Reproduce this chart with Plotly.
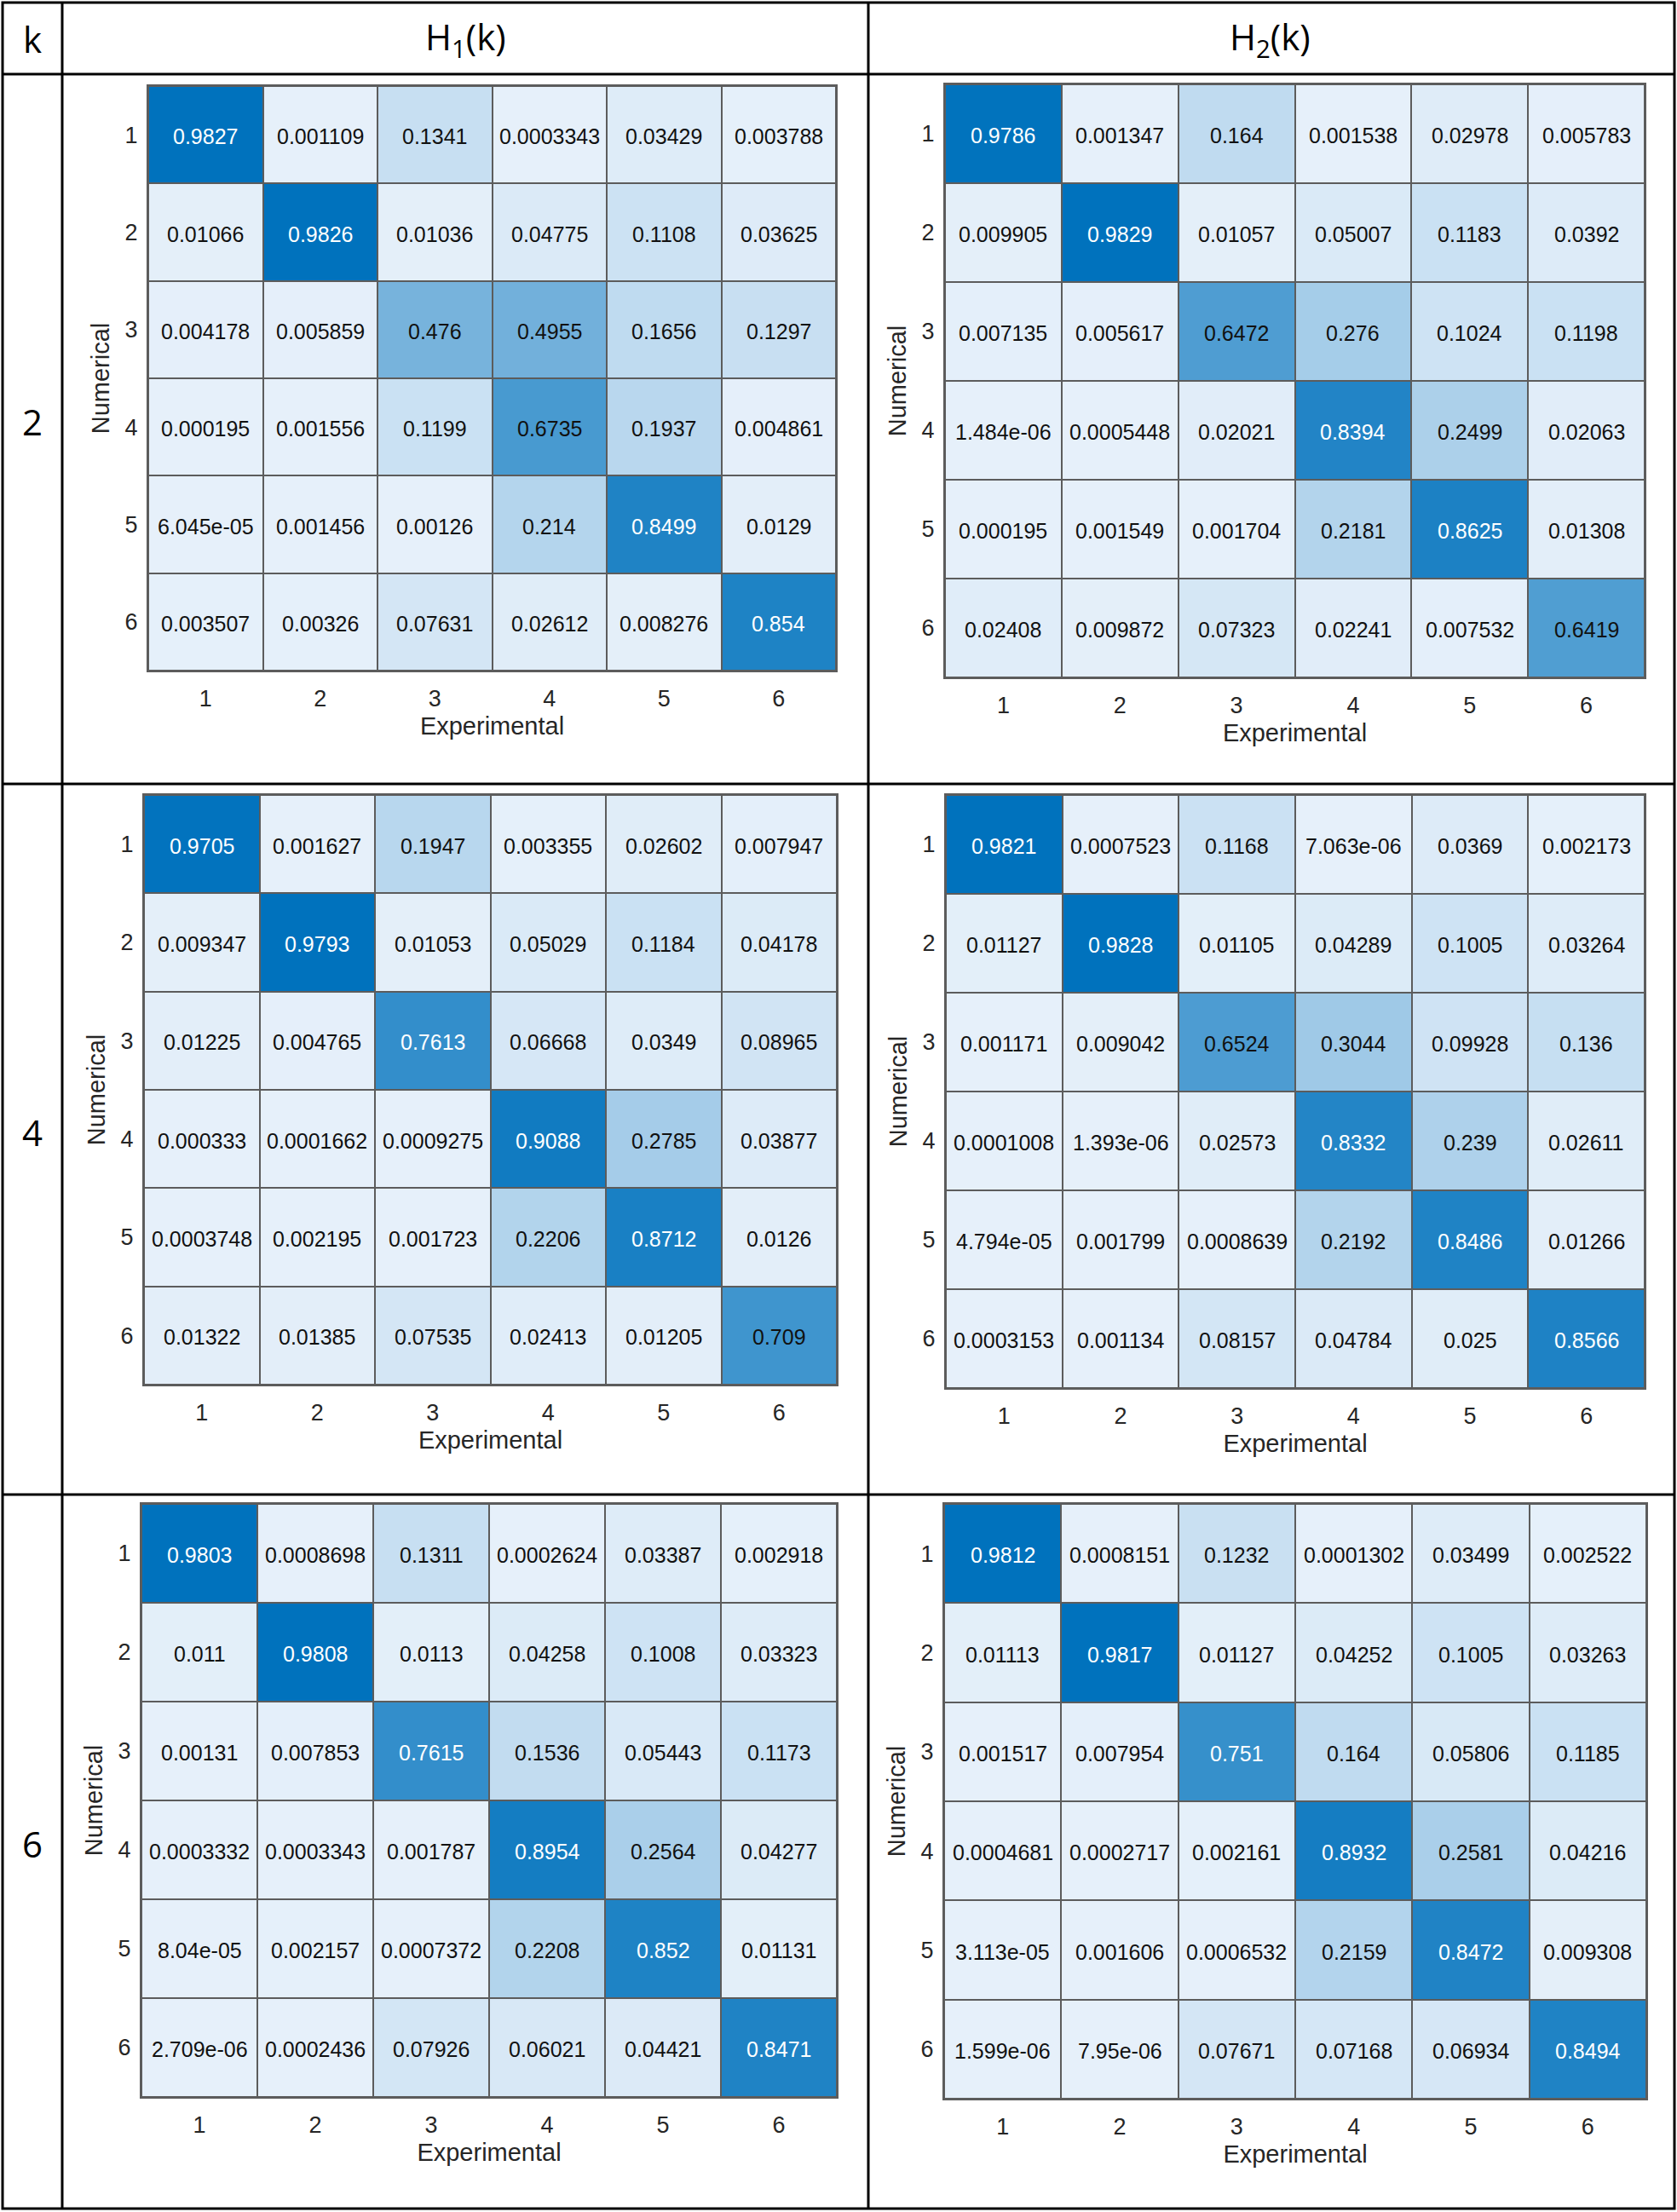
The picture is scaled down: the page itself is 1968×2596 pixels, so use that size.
import plotly.graph_objects as go

# ---------------- data ----------------
K_VALUES = [2, 4, 6]
CLASSES = [1, 2, 3, 4, 5, 6]
COL_HEADERS = ["k", "H<sub>1</sub>(k)", "H<sub>2</sub>(k)"]
X_TITLE = "Experimental"
Y_TITLE = "Numerical"

H1_K2 = [
    [0.9827, 0.001109, 0.1341, 0.0003343, 0.03429, 0.003788],
    [0.01066, 0.9826, 0.01036, 0.04775, 0.1108, 0.03625],
    [0.004178, 0.005859, 0.476, 0.4955, 0.1656, 0.1297],
    [0.000195, 0.001556, 0.1199, 0.6735, 0.1937, 0.004861],
    [6.045e-05, 0.001456, 0.00126, 0.214, 0.8499, 0.0129],
    [0.003507, 0.00326, 0.07631, 0.02612, 0.008276, 0.854],
]
H2_K2 = [
    [0.9786, 0.001347, 0.164, 0.001538, 0.02978, 0.005783],
    [0.009905, 0.9829, 0.01057, 0.05007, 0.1183, 0.0392],
    [0.007135, 0.005617, 0.6472, 0.276, 0.1024, 0.1198],
    [1.484e-06, 0.0005448, 0.02021, 0.8394, 0.2499, 0.02063],
    [0.000195, 0.001549, 0.001704, 0.2181, 0.8625, 0.01308],
    [0.02408, 0.009872, 0.07323, 0.02241, 0.007532, 0.6419],
]
H1_K4 = [
    [0.9705, 0.001627, 0.1947, 0.003355, 0.02602, 0.007947],
    [0.009347, 0.9793, 0.01053, 0.05029, 0.1184, 0.04178],
    [0.01225, 0.004765, 0.7613, 0.06668, 0.0349, 0.08965],
    [0.000333, 0.0001662, 0.0009275, 0.9088, 0.2785, 0.03877],
    [0.0003748, 0.002195, 0.001723, 0.2206, 0.8712, 0.0126],
    [0.01322, 0.01385, 0.07535, 0.02413, 0.01205, 0.709],
]
H2_K4 = [
    [0.9821, 0.0007523, 0.1168, 7.063e-06, 0.0369, 0.002173],
    [0.01127, 0.9828, 0.01105, 0.04289, 0.1005, 0.03264],
    [0.001171, 0.009042, 0.6524, 0.3044, 0.09928, 0.136],
    [0.0001008, 1.393e-06, 0.02573, 0.8332, 0.239, 0.02611],
    [4.794e-05, 0.001799, 0.0008639, 0.2192, 0.8486, 0.01266],
    [0.0003153, 0.001134, 0.08157, 0.04784, 0.025, 0.8566],
]
H1_K6 = [
    [0.9803, 0.0008698, 0.1311, 0.0002624, 0.03387, 0.002918],
    [0.011, 0.9808, 0.0113, 0.04258, 0.1008, 0.03323],
    [0.00131, 0.007853, 0.7615, 0.1536, 0.05443, 0.1173],
    [0.0003332, 0.0003343, 0.001787, 0.8954, 0.2564, 0.04277],
    [8.04e-05, 0.002157, 0.0007372, 0.2208, 0.852, 0.01131],
    [2.709e-06, 0.0002436, 0.07926, 0.06021, 0.04421, 0.8471],
]
H2_K6 = [
    [0.9812, 0.0008151, 0.1232, 0.0001302, 0.03499, 0.002522],
    [0.01113, 0.9817, 0.01127, 0.04252, 0.1005, 0.03263],
    [0.001517, 0.007954, 0.751, 0.164, 0.05806, 0.1185],
    [0.0004681, 0.0002717, 0.002161, 0.8932, 0.2581, 0.04216],
    [3.113e-05, 0.001606, 0.0006532, 0.2159, 0.8472, 0.009308],
    [1.599e-06, 7.95e-06, 0.07671, 0.07168, 0.06934, 0.8494],
]

# ---------------- layout geometry (pixels) ----------------
W, H = 1968, 2596
PANELS = [
    (H1_K2, (174, 981, 101, 787)),
    (H2_K2, (1109, 1930, 99, 795)),
    (H1_K4, (169, 982, 933, 1625)),
    (H2_K4, (1110, 1930, 933, 1629)),
    (H1_K6, (166, 982, 1765, 2461)),
    (H2_K6, (1108, 1932, 1765, 2463)),
]
COLORSCALE = [[0.0, "rgb(230,240,250)"], [1.0, "rgb(0,114,189)"]]
GRID = "#5c5c5c"
CELL_FONT = "Liberation Sans"
HEAD_FONT = "Open Sans"

fig = go.Figure()
layout_axes = {}
annotations = []

for i, (mat, (x0, x1, y0, y1)) in enumerate(PANELS, start=1):
    xa = "x" if i == 1 else f"x{i}"
    ya = "y" if i == 1 else f"y{i}"
    flat = [v for row in mat for v in row]
    fig.add_trace(go.Heatmap(
        z=mat, x=CLASSES, y=CLASSES, colorscale=COLORSCALE,
        zmin=min(flat), zmax=max(flat), showscale=False,
        xgap=2, ygap=2, hoverinfo="skip", xaxis=xa, yaxis=ya,
    ))
    for r, row in enumerate(mat):
        for c, v in enumerate(row):
            annotations.append(dict(
                x=CLASSES[c], y=CLASSES[r], xref=xa, yref=ya,
                text="{:.4g}".format(v), showarrow=False,
                xanchor="center", yanchor="middle", yshift=-2,
                font=dict(family=CELL_FONT, size=25,
                          color="#ffffff" if v > 0.73 else "#111111"),
            ))
    common = dict(
        showline=True, mirror=True, linecolor=GRID, linewidth=2,
        showgrid=False, zeroline=False, ticks="", tickvals=CLASSES,
        range=[0.5, 6.5], fixedrange=True,
        tickfont=dict(family=CELL_FONT, size=27, color="#262626"),
    )
    layout_axes["xaxis" if i == 1 else f"xaxis{i}"] = dict(
        common, domain=[x0 / W, x1 / W], anchor=ya, ticklabelstandoff=8,
        title=dict(text=X_TITLE, standoff=7,
                   font=dict(family=CELL_FONT, size=29, color="#262626")),
    )
    layout_axes["yaxis" if i == 1 else f"yaxis{i}"] = dict(
        common, domain=[1 - y1 / H, 1 - y0 / H], anchor=xa,
        autorange=False, range=[6.5, 0.5], ticklabelstandoff=5,
        title=dict(text=Y_TITLE, standoff=9,
                   font=dict(family=CELL_FONT, size=29, color="#262626")),
    )

# ---------------- table frame ----------------
LINE = dict(color="black", width=3)
shapes = [
    dict(type="rect", xref="paper", yref="paper", x0=3 / W, x1=1965 / W,
         y0=1 - 2592 / H, y1=1 - 3 / H, line=LINE),
]
for xv in (73, 1019):
    shapes.append(dict(type="line", xref="paper", yref="paper", x0=xv / W, x1=xv / W,
                       y0=1 - 2592 / H, y1=1 - 3 / H, line=LINE))
for yv in (87, 920, 1754):
    shapes.append(dict(type="line", xref="paper", yref="paper", x0=3 / W, x1=1965 / W,
                       y0=1 - yv / H, y1=1 - yv / H, line=LINE))

for text, xc in zip(COL_HEADERS, (38, 546, 1490)):
    annotations.append(dict(text=text, x=xc / W, y=1 - 46 / H, xref="paper", yref="paper",
                            showarrow=False, xanchor="center", yanchor="middle",
                            font=dict(family=HEAD_FONT, size=42, color="black")))
for k, yc in zip(K_VALUES, (494, 1328, 2163)):
    annotations.append(dict(text=str(k), x=38 / W, y=1 - yc / H, xref="paper", yref="paper",
                            showarrow=False, xanchor="center", yanchor="middle",
                            font=dict(family=HEAD_FONT, size=42, color="black")))

fig.update_layout(
    width=W, height=H, margin=dict(l=0, r=0, t=0, b=0),
    paper_bgcolor="white", plot_bgcolor=GRID, showlegend=False,
    shapes=shapes, annotations=annotations, **layout_axes,
)

fig.write_html(
    "out.html",
    config={"displayModeBar": False, "staticPlot": True},
    post_script="document.body.style.margin='0';document.body.style.overflow='hidden';",
)
